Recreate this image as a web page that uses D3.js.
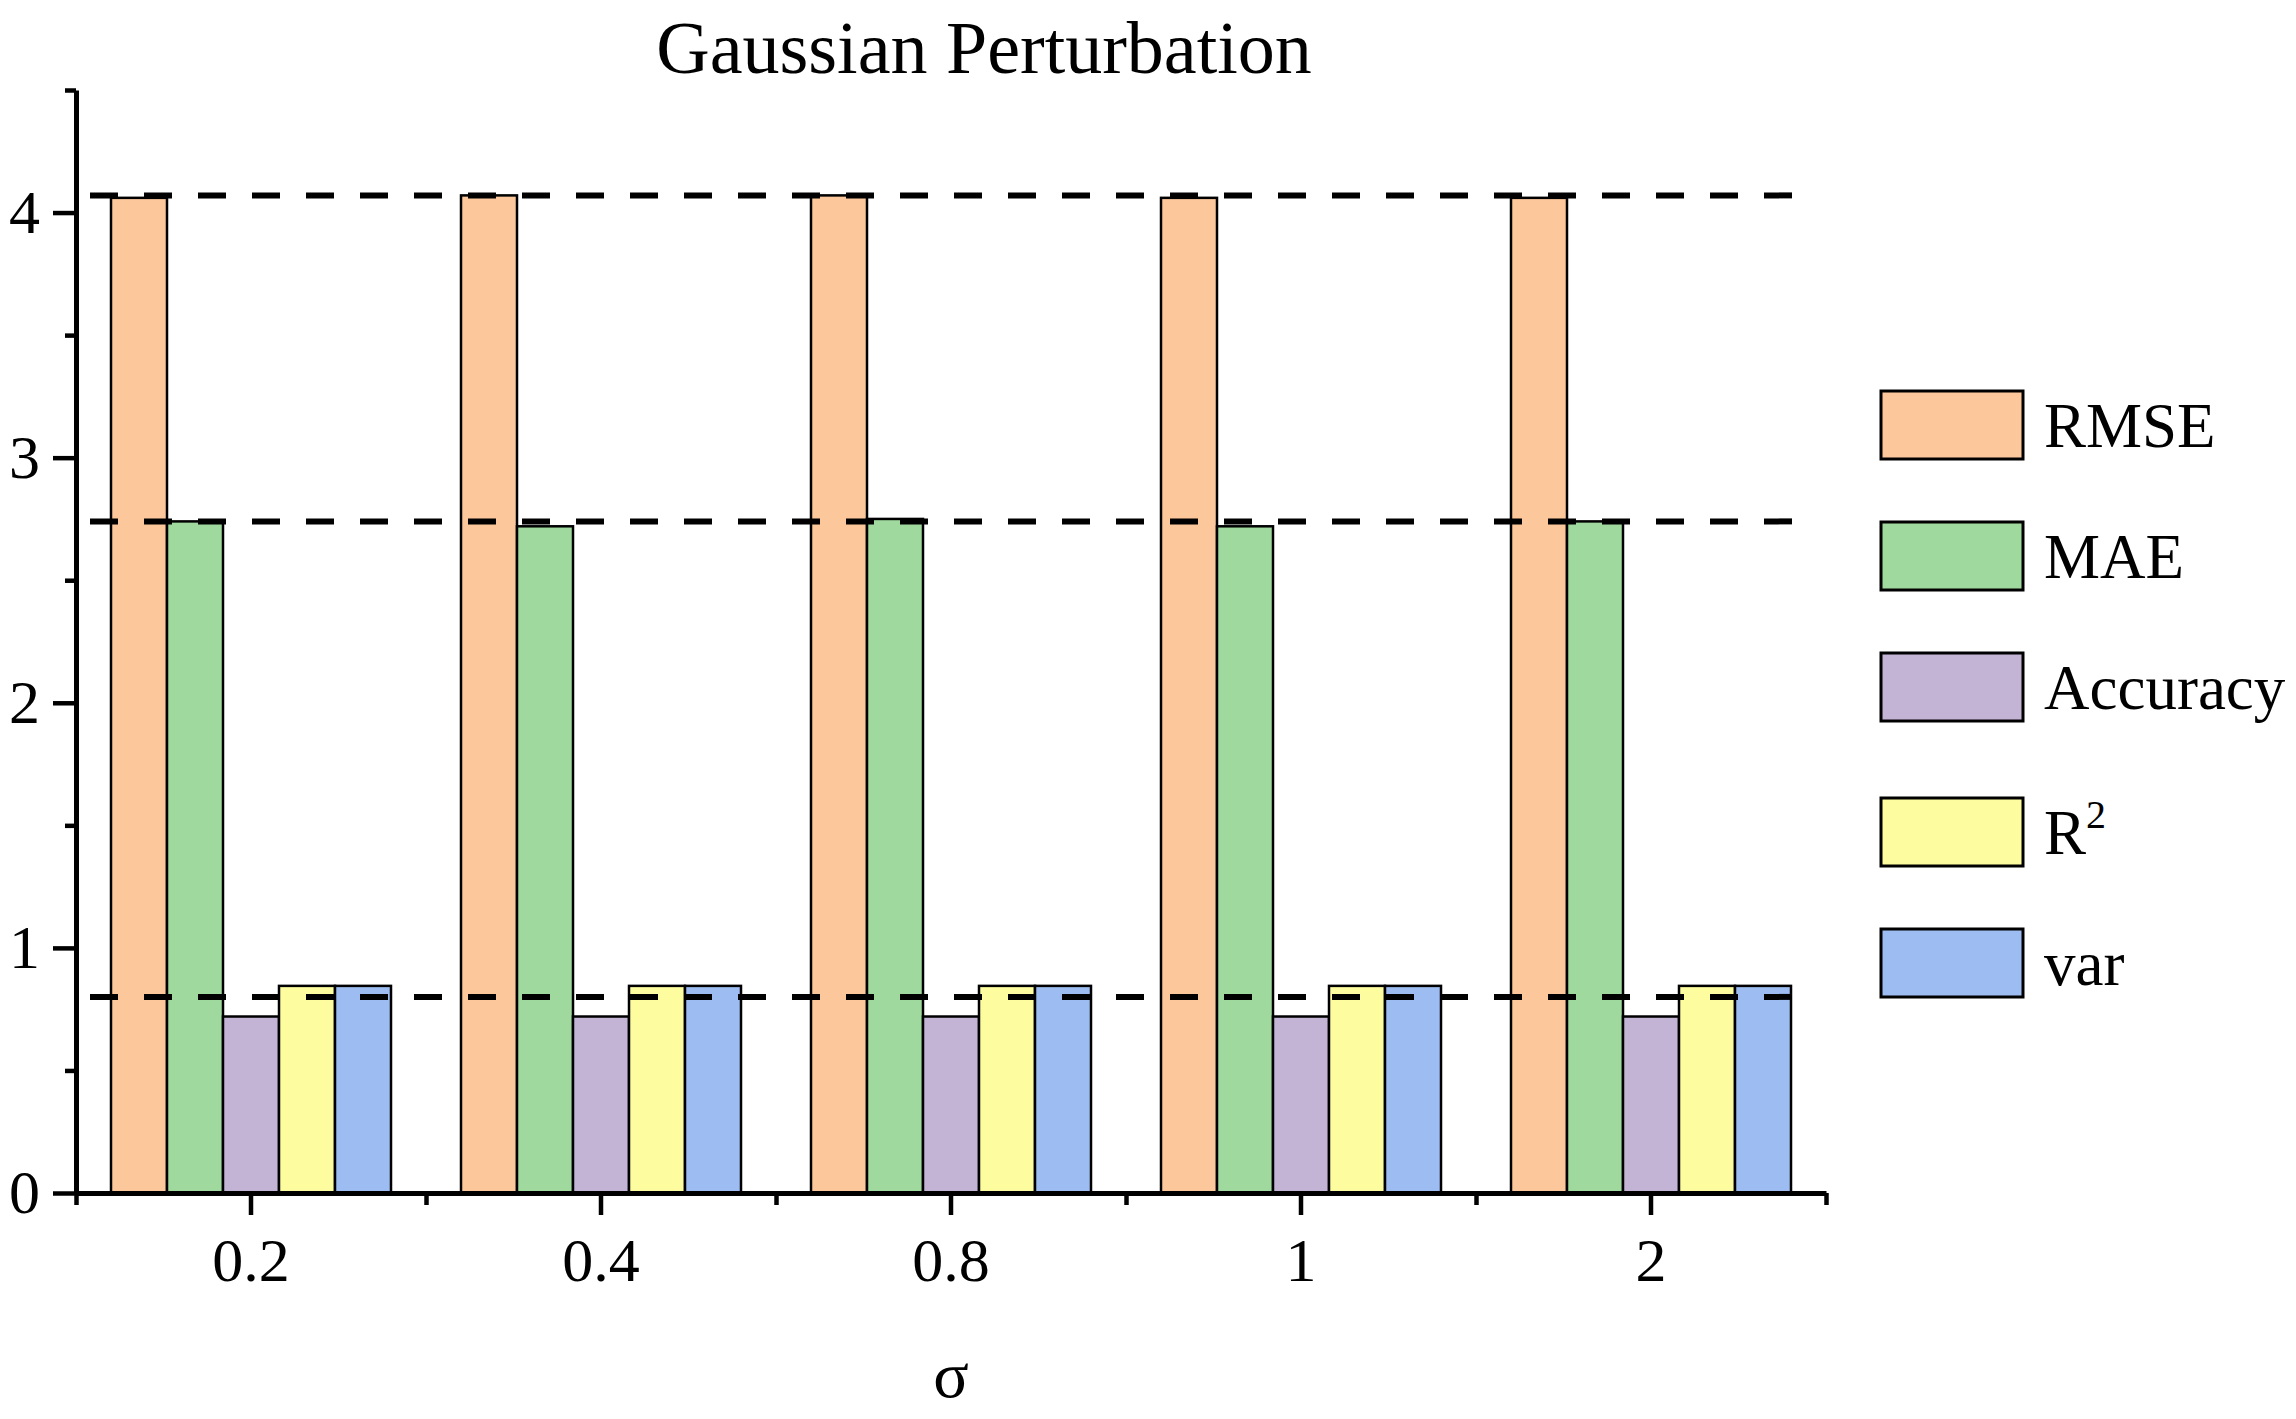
<!DOCTYPE html>
<html>
<head>
<meta charset="utf-8">
<script src="https://cdn.jsdelivr.net/npm/d3@7"></script>
<style>
  html, body { margin: 0; padding: 0; background: #fff; }
  svg { display: block; }
  text { font-family: "Liberation Serif", "Times New Roman", serif; fill: #000; }
</style>
</head>
<body>
<div id="chart"></div>
<script>
// data
const sigmas  = ["0.2", "0.4", "0.8", "1", "2"];
const metrics = ["RMSE", "MAE", "Accuracy", "R2", "var"];
const rmse     = [4.06, 4.07, 4.07, 4.06, 4.06];
const mae      = [2.74, 2.72, 2.75, 2.72, 2.74];
const accuracy = [0.72, 0.72, 0.72, 0.72, 0.72];
const r2       = [0.845, 0.845, 0.845, 0.845, 0.845];
const variance = [0.845, 0.845, 0.845, 0.845, 0.845];
const refLines = [4.07, 2.74, 0.80];
const yMajor = [0, 1, 2, 3, 4];
const yMinor = [0.5, 1.5, 2.5, 3.5, 4.5];
const colors = ["#FCC89B", "#A0D99E", "#C3B4D6", "#FDFD9F", "#9CBCF2"];

const series = [rmse, mae, accuracy, r2, variance];

const W = 2296, H = 1419;
const plotL = 76, plotR = 1826, plotT = 90, plotB = 1193;

const svg = d3.select("#chart").append("svg").attr("width", W).attr("height", H);

const x0 = d3.scaleBand().domain(sigmas).range([plotL, plotR]).paddingInner(0.2).paddingOuter(0.1);
const x1 = d3.scaleBand().domain(metrics).range([0, x0.bandwidth()]);
const xEdge = d3.scaleLinear().domain([0, sigmas.length]).range([plotL, plotR]);
const y = d3.scaleLinear().domain([0, 4.5]).range([plotB, plotT]);

// bars
const groups = svg.append("g").selectAll("g").data(sigmas).join("g")
    .attr("transform", d => `translate(${x0(d)},0)`);

groups.selectAll("rect")
    .data((d, i) => metrics.map((m, j) => ({ m, j, v: series[j][i] })))
    .join("rect")
    .attr("x", d => x1(d.m)).attr("width", x1.bandwidth())
    .attr("y", d => y(d.v)).attr("height", d => y(0) - y(d.v))
    .attr("fill", d => colors[d.j]).attr("stroke", "#000").attr("stroke-width", 2.5);

// dashed reference lines
svg.append("g").selectAll("line").data(refLines).join("line")
    .attr("x1", 90).attr("x2", 1805)
    .attr("y1", d => y(d)).attr("y2", d => y(d))
    .attr("stroke", "#000").attr("stroke-width", 6).attr("stroke-dasharray", "28,26");

// axes
const styleAxis = g => {
    g.select(".domain").attr("stroke-width", 5);
    g.selectAll(".tick line").attr("stroke-width", 4.5);
    g.selectAll("text").style("font-family", "'Liberation Serif','Times New Roman',serif");
};

svg.append("g").attr("transform", `translate(0,${plotB})`)
    .call(d3.axisBottom(xEdge).tickValues(d3.range(0, sigmas.length + 1)).tickSize(12).tickSizeOuter(0).tickFormat(""))
    .call(styleAxis);

svg.append("g").attr("transform", `translate(0,${plotB})`)
    .call(d3.axisBottom(x0).tickSize(22).tickSizeOuter(0).tickPadding(22))
    .call(styleAxis)
    .call(g => g.select(".domain").remove())
    .call(g => g.selectAll("text").attr("font-size", 62));

svg.append("g").attr("transform", `translate(${plotL},0)`)
    .call(d3.axisLeft(y).tickValues(yMinor).tickSize(11).tickSizeOuter(0).tickFormat(""))
    .call(styleAxis);

svg.append("g").attr("transform", `translate(${plotL},0)`)
    .call(d3.axisLeft(y).tickValues(yMajor).tickSize(23).tickSizeOuter(0).tickPadding(13).tickFormat(d3.format("d")))
    .call(styleAxis)
    .call(g => g.select(".domain").remove())
    .call(g => g.selectAll("text").attr("font-size", 62));

// title and axis label
svg.append("text").attr("x", 984).attr("y", 73).attr("text-anchor", "middle")
    .attr("font-size", 74).text("Gaussian Perturbation");

svg.append("text").attr("x", (plotL + plotR) / 2).attr("y", 1397).attr("text-anchor", "middle")
    .attr("font-size", 66).text("σ");

// legend
const legendTops = [391, 522, 653, 798, 929];
const legend = svg.append("g").selectAll("g").data(metrics).join("g")
    .attr("transform", (d, i) => `translate(1881,${legendTops[i]})`);

legend.append("rect").attr("width", 142).attr("height", 68)
    .attr("fill", (d, i) => colors[i]).attr("stroke", "#000").attr("stroke-width", 3);

legend.append("text").attr("x", 163).attr("y", 56).attr("font-size", 63)
    .each(function(d) {
        const t = d3.select(this);
        if (d === "R2") {
            t.append("tspan").text("R");
            t.append("tspan").attr("font-size", 40).attr("dy", -26).text("2");
        } else {
            t.text(d);
        }
    });
</script>
</body>
</html>
